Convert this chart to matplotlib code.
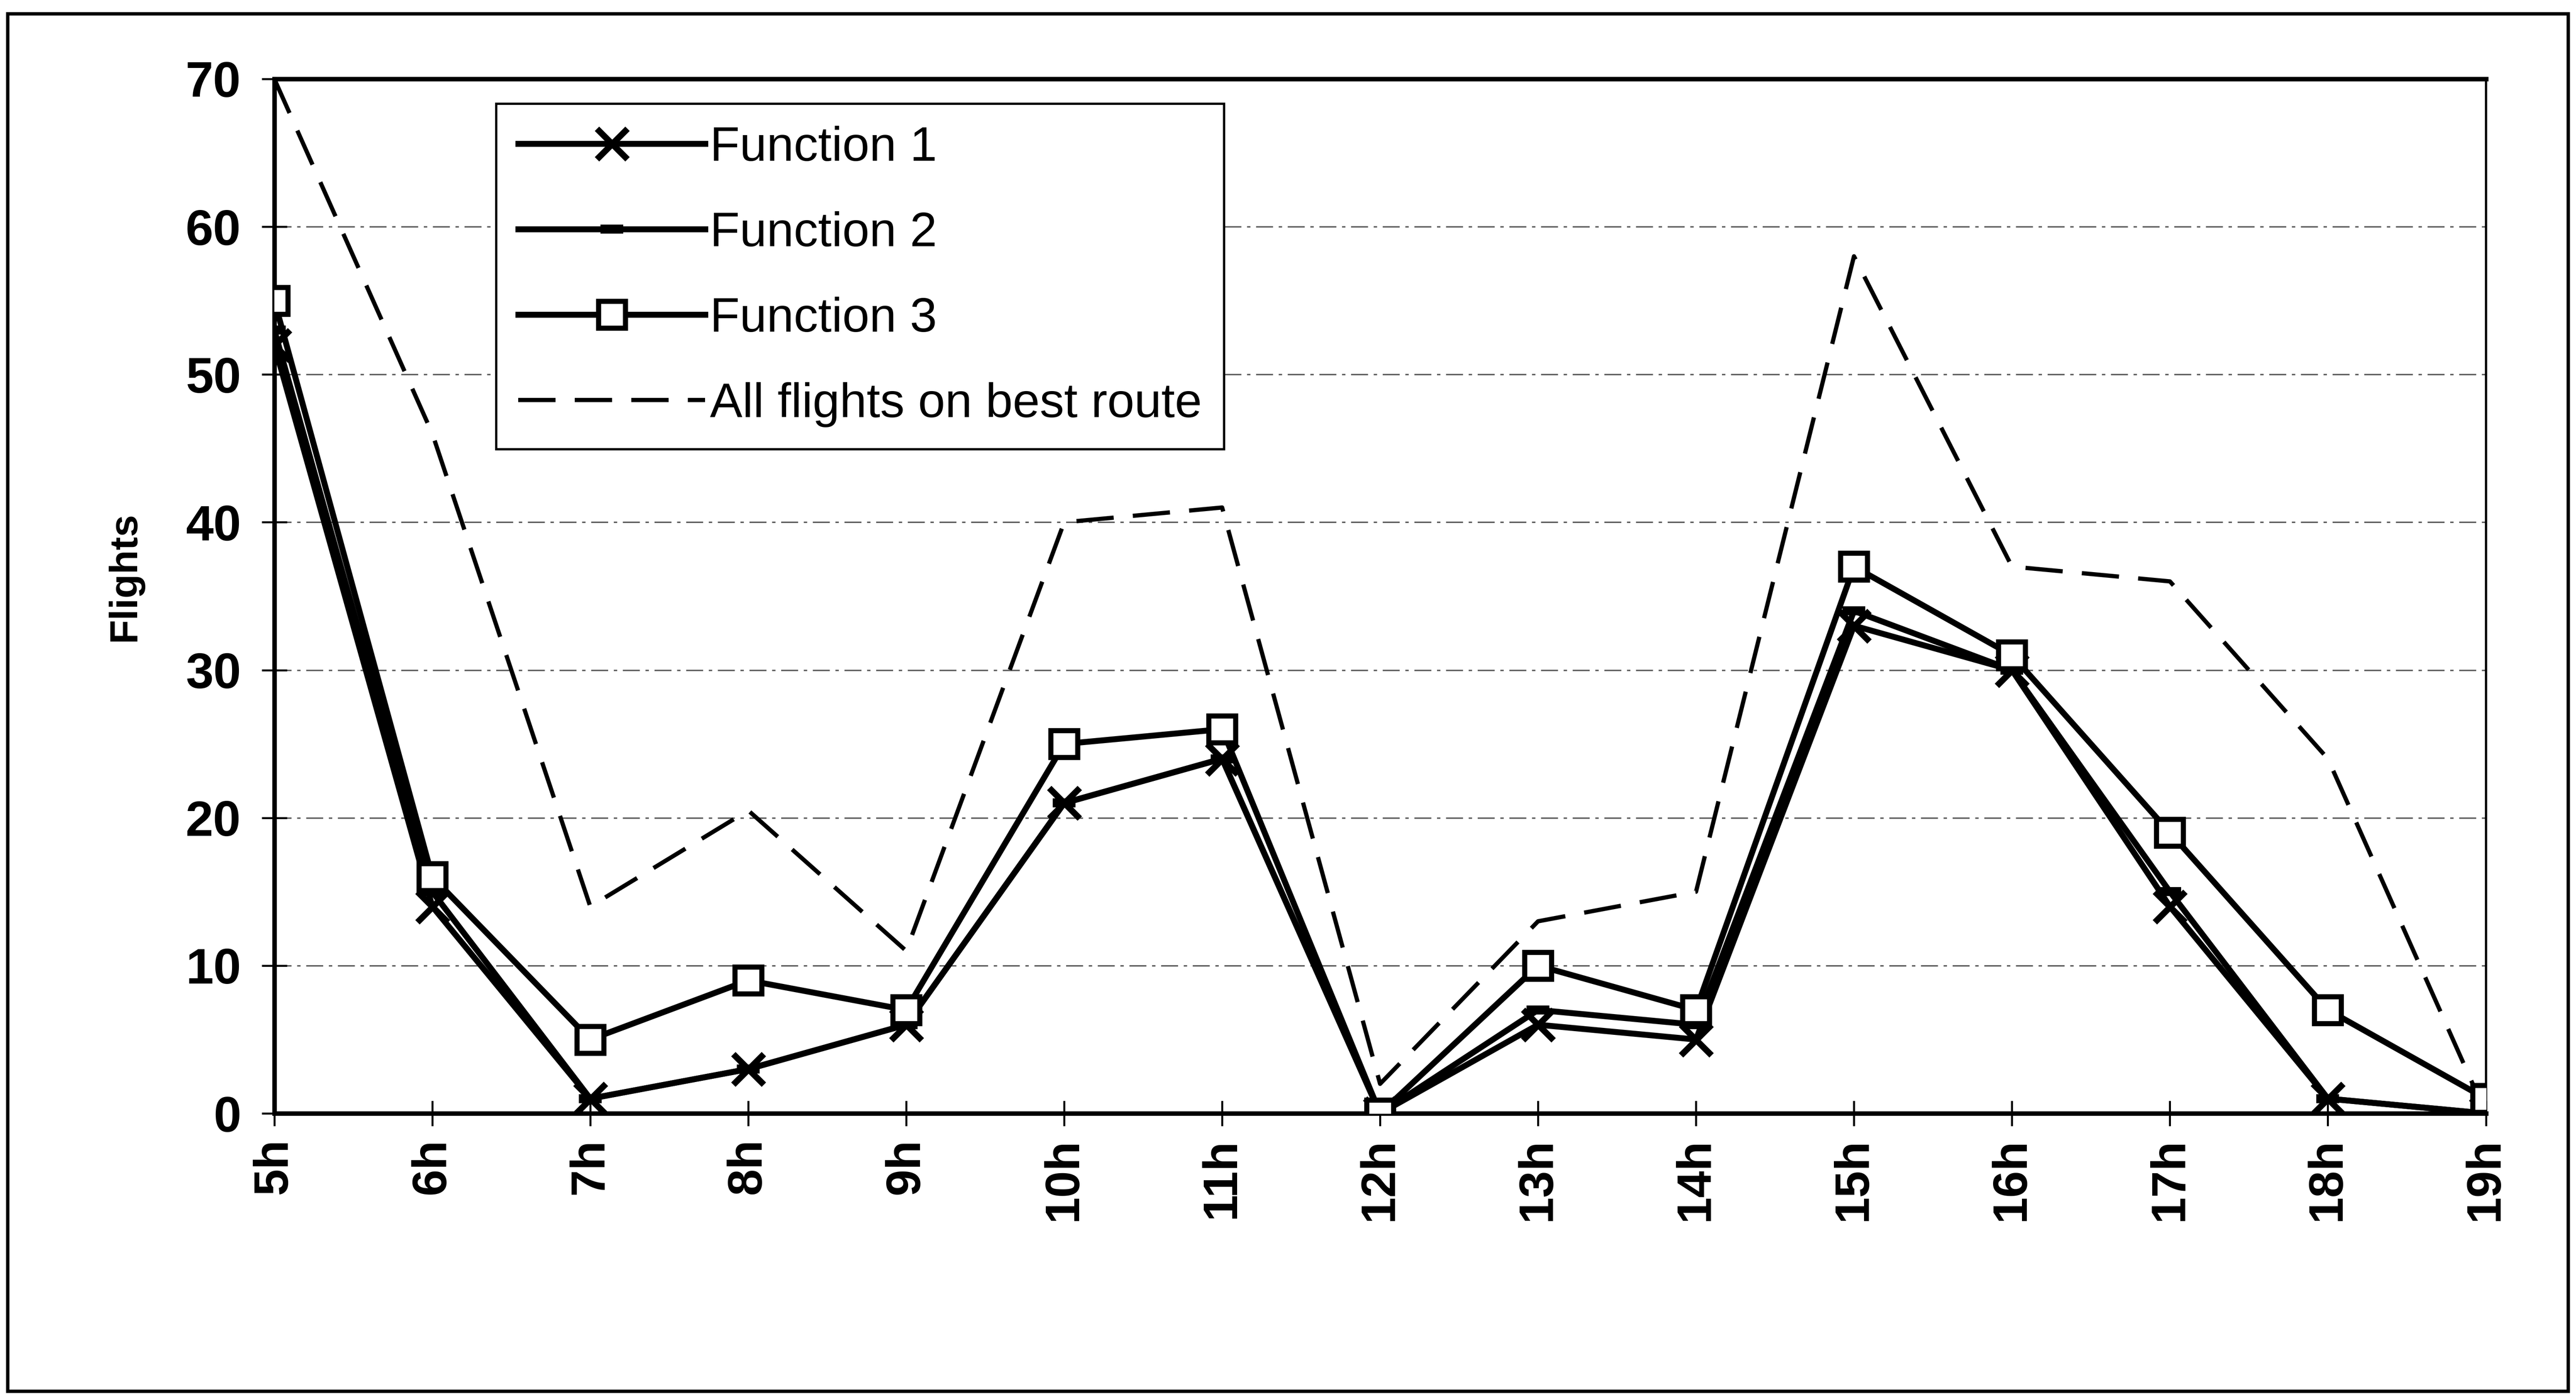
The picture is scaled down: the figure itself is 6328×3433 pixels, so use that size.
import numpy as np
import matplotlib.pyplot as plt
from matplotlib.patches import Rectangle

plt.rcParams['font.family'] = ['Liberation Sans', 'DejaVu Sans']
plt.rcParams['lines.scale_dashes'] = False

hours = ["5h", "6h", "7h", "8h", "9h", "10h", "11h", "12h",
         "13h", "14h", "15h", "16h", "17h", "18h", "19h"]
func1 = [52, 14, 1, 3, 6, 21, 24, 0, 6, 5, 33, 30, 14, 1, 0]
func2 = [53, 15, 1, 3, 6, 21, 24, 0, 7, 6, 34, 30, 15, 1, 0]
func3 = [55, 16, 5, 9, 7, 25, 26, 0, 10, 7, 37, 31, 19, 7, 1]
best_route = [70, 46, 14, 20.5, 11, 40, 41, 2, 13, 15, 58, 37, 36, 24, 0]

x = np.arange(len(hours))

fig = plt.figure(figsize=(63.28, 34.33), dpi=100)
ax = fig.add_axes([0.1065, 0.203, 0.8585, 0.7405])

# outer chart frame
fig.patches.append(Rectangle((0.003, 0.004), 0.994, 0.986, transform=fig.transFigure,
                             fill=False, edgecolor='black', linewidth=6))

lw = 10.5
ax.plot(x, func1, '-', color='black', lw=lw, marker='x', markersize=54,
        markeredgewidth=11, label="Function 1", zorder=4)
ax.plot(x, func2, '-', color='black', lw=lw, marker='_', markersize=40,
        markeredgewidth=16, label="Function 2", zorder=3)
ax.plot(x, func3, '-', color='black', lw=lw, marker='s', markersize=48,
        markerfacecolor='white', markeredgecolor='black', markeredgewidth=9,
        label="Function 3", zorder=5)
ax.plot(x, best_route, color='black', lw=7.5, dashes=(66, 34),
        label="All flights on best route", zorder=2)

ax.set_xlim(0, 14)
ax.set_ylim(0, 70)
ax.set_yticks(np.arange(0, 71, 10))
ax.set_xticks(x)
ax.set_xticklabels(hours, rotation=90, fontsize=85, fontweight='bold')
for lab in ax.get_yticklabels():
    lab.set_fontsize(88)
    lab.set_fontweight('bold')

ax.tick_params(axis='both', direction='inout', length=44, width=3.5)
ax.tick_params(axis='x', pad=22)
ax.tick_params(axis='y', pad=37)

for y in range(10, 70, 10):
    ax.axhline(y, color='0.35', lw=2.5, dashes=(30, 10, 6, 10), zorder=1)

for side in ['left', 'bottom', 'top']:
    ax.spines[side].set_linewidth(8)
ax.spines['right'].set_linewidth(4)

ax.set_ylabel("Flights", fontsize=70, fontweight='bold')
ax.yaxis.set_label_coords(-0.0593, 0.519)

leg = ax.legend(loc='upper left', bbox_to_anchor=(0.1003, 0.976), fontsize=86,
                frameon=True, fancybox=False, shadow=False, handlelength=3.85,
                handletextpad=0.1, labelspacing=0.83, borderpad=0.45,
                borderaxespad=0)
leg.get_frame().set_edgecolor('black')
leg.get_frame().set_linewidth(4)
leg.get_frame().set_alpha(1)

fig.savefig("out.png", dpi=100, facecolor='white')
